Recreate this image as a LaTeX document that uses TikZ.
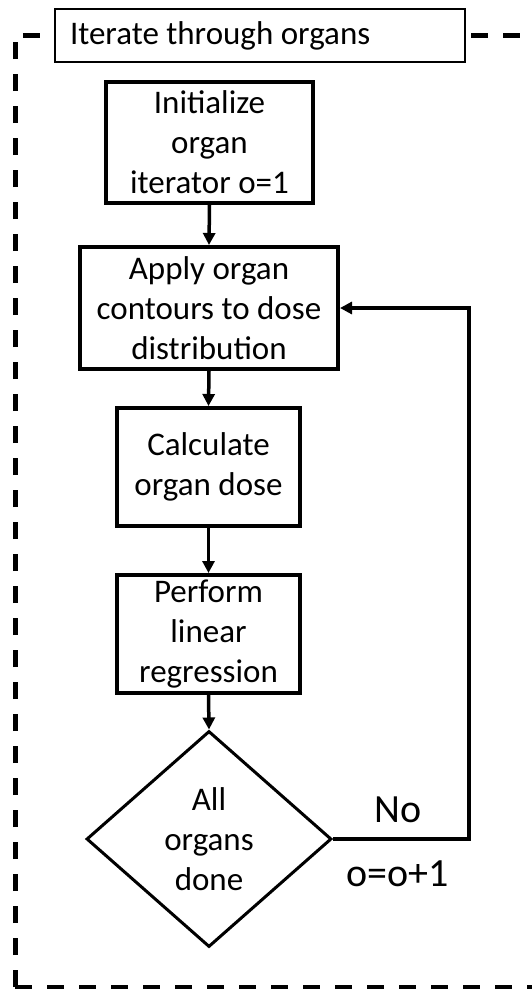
\documentclass[tikz,border=0pt]{standalone}
\usepackage{fontspec}
\setmainfont{Carlito}
\usetikzlibrary{shapes.geometric,arrows.meta}
\tikzset{
  stepbox/.style={draw, line width=4pt, rectangle, inner sep=0pt, align=center,
    font=\fontsize{33}{40}\selectfont, fill=white},
  decbox/.style={draw, line width=3pt, diamond, inner sep=0pt, align=center,
    font=\fontsize{33}{40}\selectfont, minimum width=245pt, minimum height=216pt},
  flow/.style={line width=3.5pt, -{Triangle[length=12pt,width=12pt]}},
  lbl/.style={font=\fontsize{40}{48}\selectfont, inner sep=0pt},
}
\begin{document}
\begin{tikzpicture}[x=1pt,y=-1pt]
\useasboundingbox (0,0) rectangle (532,989);
\clip (0,0) rectangle (532,989);
% dashed frame
\draw[line width=5pt, dash pattern=on 17pt off 15pt] (15,987) -- (15,35) -- (560,35);
\draw[line width=5pt, dash pattern=on 17pt off 15pt] (15,987) -- (560,987);
% title
\node[draw, line width=1.2pt, fill=white, minimum width=410pt, minimum height=53pt, inner sep=0pt,
  text width=380pt, align=flush left, font=\fontsize{33}{40}\selectfont] (title) at (260,35.5) {Iterate through organs};
% steps
\node[stepbox, minimum width=207pt, minimum height=121pt] (init) at (209.5,142.5) {Initialize\\organ\\iterator o=1};
\node[stepbox, minimum width=258pt, minimum height=122pt] (apply) at (209,308) {Apply organ\\contours to dose\\distribution};
\node[stepbox, minimum width=183pt, minimum height=118pt] (calc) at (208.5,467) {Calculate\\organ dose};
\node[stepbox, minimum width=183pt, minimum height=118pt] (perf) at (208.5,634) {Perform\\linear\\regression};
\node[decbox] (done) at (209,839) {All\\organs\\done};
\coordinate (loopc1) at (469,839);
\coordinate (loopc2) at (469,308);
% connectors
\draw[flow] (init.south) -- (apply.north);
\draw[flow] (apply.south) -- (calc.north);
\draw[flow] (calc.south) -- (perf.north);
\draw[flow] (perf.south) -- (done.north);
\draw[flow] (done.east) -- (loopc1) -- (loopc2) -- (apply.east);
% labels
\node[lbl] (no) at (398,810) {No};
\node[lbl] (inc) at (398,874) {o=o+1};
\end{tikzpicture}
\end{document}
